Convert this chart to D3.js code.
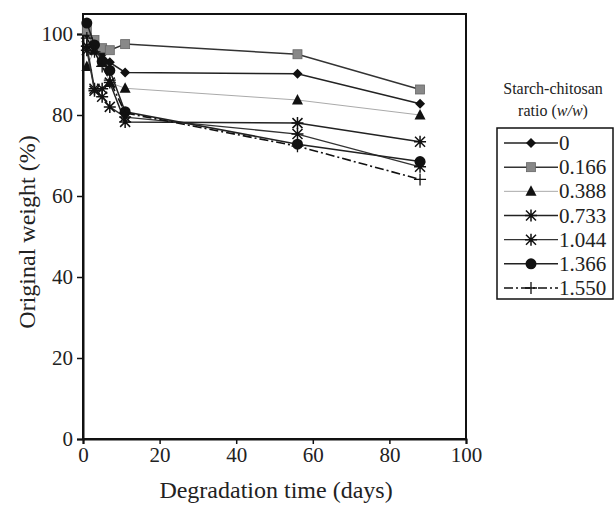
<!DOCTYPE html>
<html>
<head>
  <title>Starch-chitosan degradation</title>
  <script src="https://d3js.org/d3.v7.min.js"></script>
  <style>
    body { margin: 0; background: #fff; }
    text { font-family: "Liberation Serif", "DejaVu Serif", serif; fill: #222; }
  </style>
</head>
<body>
<script type="text/javascript">

// ****** DATA ******

  var days = [1, 3, 5, 7, 11, 56, 88];
  var ratios = ["0", "0.166", "0.388", "0.733", "1.044", "1.366", "1.550"];
  var w0     = [100, 97.5, 95, 93, 90.5, 90.2, 82.8];
  var w0166  = [101, 98.5, 96.5, 96, 97.5, 95, 86.3];
  var w0388  = [92, 96, 93, 88, 86.6, 83.7, 80];
  var w0733  = [97, 86.5, 86.5, 88, 78.3, 78, 73.4];
  var w1044  = [96, 86, 84.5, 82, 79.5, 75.3, 67.2];
  var w1366  = [102.7, 97.3, 93.2, 91, 80.8, 72.8, 68.5];
  var w1550  = [99, 95.6, 92, 88.6, 80.5, 72.3, 64.1];
  var xTicks = [0, 20, 40, 60, 80, 100];
  var yTicks = [0, 20, 40, 60, 80, 100];

  var weights = [w0, w0166, w0388, w0733, w1044, w1366, w1550];

  // look of each series
  var styles = [
    { marker: "diamond", color: "#111", stroke: "#222", width: 1.5, dash: null },
    { marker: "square", color: "#888", stroke: "#333", width: 1.5, dash: null },
    { marker: "triangle", color: "#111", stroke: "#aaa", width: 1, dash: null },
    { marker: "star", color: "#111", stroke: "#222", width: 1.5, dash: null },
    { marker: "star", color: "#111", stroke: "#333", width: 1.3, dash: null },
    { marker: "circle", color: "#111", stroke: "#222", width: 1.5, dash: null },
    { marker: "plus", color: "#111", stroke: "#111", width: 1.6, dash: "9,3,2,3" }
  ];

// ****** SCALES ******

  var width = 615, height = 509;
  var x = d3.scaleLinear().domain([0, 100]).range([83, 466]);
  var y = d3.scaleLinear().domain([0, 100]).range([439, 34]);

  var svg = d3.select("body").append("svg")
    .attr("width", width)
    .attr("height", height);

  // frame
  svg.append("rect")
    .attr("x", x(0)).attr("y", 14)
    .attr("width", x(100) - x(0)).attr("height", y(0) - 14)
    .attr("fill", "none").attr("stroke", "#111").attr("stroke-width", 2);

  var xAxis = svg.append("g")
    .attr("transform", "translate(0," + y(0) + ")")
    .call(d3.axisBottom(x).tickValues(xTicks).tickSize(5).tickPadding(3));
  var yAxis = svg.append("g")
    .attr("transform", "translate(" + x(0) + ",0)")
    .call(d3.axisLeft(y).tickValues(yTicks).tickSize(6).tickPadding(4));

  [xAxis, yAxis].forEach(function (g) {
    g.select(".domain").attr("stroke", "#111").attr("stroke-width", 2);
    g.selectAll(".tick line").attr("stroke", "#111").attr("stroke-width", 1.5);
    g.selectAll(".tick text").style("font-family", "Liberation Serif").style("font-size", "21px").attr("fill", "#222");
  });

  svg.append("text")
    .attr("x", 276).attr("y", 498)
    .attr("text-anchor", "middle")
    .style("font-size", "24px")
    .text("Degradation time (days)");

  svg.append("text")
    .attr("transform", "translate(35,232) rotate(-90)")
    .attr("text-anchor", "middle")
    .style("font-size", "24px")
    .text("Original weight (%)");

// ****** MARKERS ******

  function drawMarker(g, kind, st) {
    if (kind === "diamond") {
      g.append("path").attr("d", "M0,-5L5,0L0,5L-5,0Z").attr("fill", st.color);
    } else if (kind === "square") {
      g.append("rect").attr("x", -4.5).attr("y", -4.5).attr("width", 9).attr("height", 9)
        .attr("fill", st.color).attr("stroke", "#666").attr("stroke-width", 0.8);
    } else if (kind === "triangle") {
      g.append("path").attr("d", "M0,-6L5.5,4.5L-5.5,4.5Z").attr("fill", st.color);
    } else if (kind === "circle") {
      g.append("circle").attr("r", 5.5).attr("fill", st.color);
    } else if (kind === "star") {
      g.append("path").attr("d", "M-5,-5L5,5M-5,5L5,-5M0,-6L0,6M-6,0L6,0")
        .attr("stroke", st.color).attr("stroke-width", 1.5);
    } else if (kind === "plus") {
      g.append("path").attr("d", "M-6,0L6,0M0,-6L0,6")
        .attr("stroke", st.color).attr("stroke-width", 1.3);
    }
  }

  var line = d3.line()
    .x(function (d) { return x(d[0]); })
    .y(function (d) { return y(d[1]); });

  weights.forEach(function (vals, i) {
    var st = styles[i];
    var pts = days.map(function (d, j) { return [d, vals[j]]; });
    svg.append("path")
      .attr("d", line(pts))
      .attr("fill", "none")
      .attr("stroke", st.stroke)
      .attr("stroke-width", st.width)
      .attr("stroke-dasharray", st.dash);
    pts.forEach(function (p) {
      var g = svg.append("g").attr("transform", "translate(" + x(p[0]) + "," + y(p[1]) + ")");
      drawMarker(g, st.marker, st);
    });
  });

// ****** LEGEND ******

  svg.append("text")
    .attr("x", 553).attr("y", 94)
    .attr("text-anchor", "middle")
    .style("font-size", "16px")
    .text("Starch-chitosan");
  var t2 = svg.append("text")
    .attr("x", 553).attr("y", 116)
    .attr("text-anchor", "middle")
    .style("font-size", "16px");
  t2.append("tspan").text("ratio (");
  t2.append("tspan").style("font-style", "italic").text("w/w");
  t2.append("tspan").text(")");

  svg.append("rect")
    .attr("x", 497).attr("y", 128)
    .attr("width", 116).attr("height", 171)
    .attr("fill", "none").attr("stroke", "#111").attr("stroke-width", 1.5);

  var legendY = d3.scalePoint().domain(ratios).range([143, 288]);

  ratios.forEach(function (r, i) {
    var st = styles[i];
    var ly = legendY(r);
    svg.append("line")
      .attr("x1", 504).attr("x2", 558)
      .attr("y1", ly).attr("y2", ly)
      .attr("stroke", st.stroke)
      .attr("stroke-width", st.width)
      .attr("stroke-dasharray", st.dash);
    var g = svg.append("g").attr("transform", "translate(531," + ly + ")");
    drawMarker(g, st.marker, st);
    svg.append("text")
      .attr("x", 559).attr("y", ly + 7)
      .style("font-size", "21px")
      .text(r);
  });

</script>
</body>
</html>
